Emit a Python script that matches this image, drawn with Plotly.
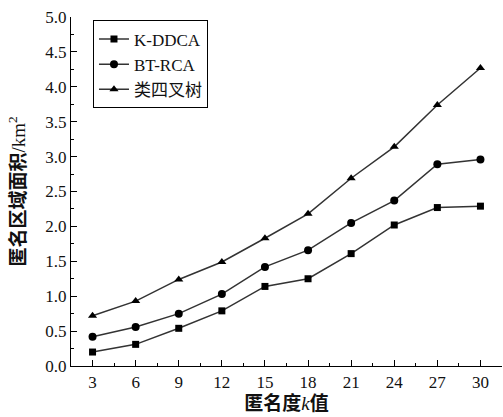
import plotly.graph_objects as go

k_values = [3, 6, 9, 12, 15, 18, 21, 24, 27, 30]
kddca = [0.20, 0.31, 0.54, 0.79, 1.14, 1.25, 1.61, 2.02, 2.27, 2.29]
btrca = [0.42, 0.56, 0.75, 1.03, 1.42, 1.66, 2.05, 2.37, 2.89, 2.96]
quad = [0.72, 0.93, 1.24, 1.49, 1.83, 2.18, 2.69, 3.14, 3.74, 4.27]
series_names = ["K-DDCA", "BT-RCA", "类四叉树"]
x_ticks = [3, 6, 9, 12, 15, 18, 21, 24, 27, 30]
y_ticks = [0.0, 0.5, 1.0, 1.5, 2.0, 2.5, 3.0, 3.5, 4.0, 4.5, 5.0]

FONT = "Liberation Serif, Noto Sans CJK SC, serif"
fig = go.Figure()
for name, vals, sym in zip(series_names, [kddca, btrca, quad], ["square", "circle", "triangle-up"]):
    fig.add_trace(go.Scatter(
        x=k_values, y=vals, name=name, mode="lines+markers",
        line=dict(color="#333333", width=1.5),
        marker=dict(symbol=sym, size=8 if sym != "square" else 7, color="black"),
    ))

axis_common = dict(
    showline=True, linecolor="black", linewidth=1.3, mirror=False,
    ticks="inside", ticklen=6, tickwidth=1.2, tickcolor="black",
    showgrid=False, zeroline=False,
    tickfont=dict(family=FONT, size=17, color="#111"),
)
fig.update_xaxes(
    range=[1.5, 31.5], tickvals=x_ticks, ticktext=[str(t) for t in x_ticks],
    minor=dict(ticks="inside", ticklen=3, tickwidth=1, tickcolor="black", dtick=1.5, tick0=1.5),
    title=dict(text="<b>匿名度</b><i>k</i><b>值</b>", font=dict(family=FONT, size=19, color="#111"), standoff=5),
    **axis_common,
)
fig.update_yaxes(
    range=[0, 5], tickvals=y_ticks, ticktext=[f"{t:.1f}" for t in y_ticks],
    minor=dict(ticks="inside", ticklen=3, tickwidth=1, tickcolor="black", dtick=0.25, tick0=0),
    title=dict(text="<b>匿名区域面积</b>/km<sup>2</sup>", font=dict(family=FONT, size=19, color="#111"), standoff=14),
    **axis_common,
)
fig.update_layout(
    width=503, height=417,
    margin=dict(l=71, r=1, t=17, b=51),
    paper_bgcolor="white", plot_bgcolor="white",
    legend=dict(
        x=0.051, y=0.99, xanchor="left", yanchor="top",
        bordercolor="black", borderwidth=1, bgcolor="white",
        font=dict(family=FONT, size=17, color="#111"),
        tracegroupgap=0, itemwidth=30,
    ),
)
fig.write_html("out.html")
